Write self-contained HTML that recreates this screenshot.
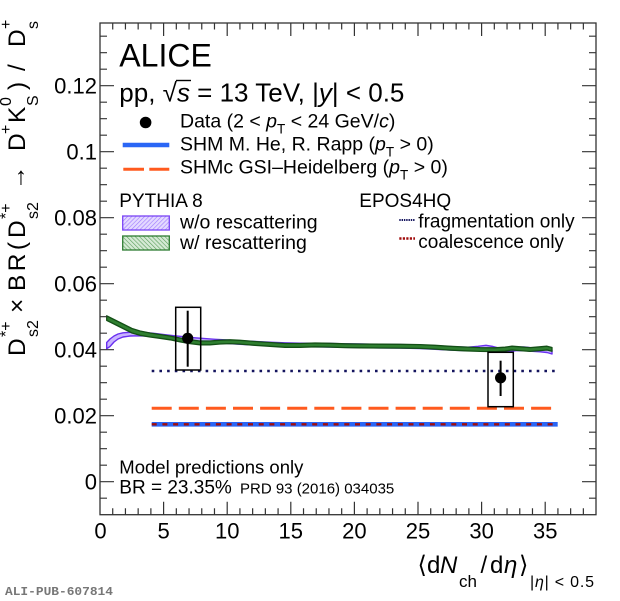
<!DOCTYPE html>
<html>
<head>
<meta charset="utf-8">
<style>
  html,body{margin:0;padding:0;background:#fff;}
  svg{display:block;}
  text{font-family:"Liberation Sans",Arial,sans-serif;fill:#000;}
  .it{font-style:italic;}
</style>
</head>
<body>
<svg width="620" height="601" viewBox="0 0 620 601" xmlns="http://www.w3.org/2000/svg">
  <defs>
    <pattern id="hp" patternUnits="userSpaceOnUse" width="3" height="3" patternTransform="rotate(45)">
      <rect width="3" height="3" fill="#e4d9ff"/>
      <line x1="0" y1="0" x2="0" y2="3" stroke="#9d78ff" stroke-width="1.2"/>
    </pattern>
    <pattern id="hg" patternUnits="userSpaceOnUse" width="3" height="3" patternTransform="rotate(-45)">
      <rect width="3" height="3" fill="#d5ead5"/>
      <line x1="0" y1="0" x2="0" y2="3" stroke="#5a9e5a" stroke-width="1.2"/>
    </pattern>
  </defs>
  <rect width="620" height="601" fill="#fff"/>

  <!-- Model horizontal lines -->
  <line x1="151.7" y1="371" x2="557.7" y2="371" stroke="#14145e" stroke-width="2.6" stroke-dasharray="2.6 5.1"/>
  <line x1="151.7" y1="408.3" x2="552.7" y2="408.3" stroke="#ff5a1e" stroke-width="3" stroke-dasharray="20 7.1"/>
  <line x1="151.7" y1="424.3" x2="557.7" y2="424.3" stroke="#2a66f5" stroke-width="4.6"/>
  <line x1="151.7" y1="424.3" x2="557.7" y2="424.3" stroke="#a00d0d" stroke-width="2.4" stroke-dasharray="5 5.7"/>

  <!-- PYTHIA w/o rescattering (purple) -->
  <polygon fill="#c9b4ff" stroke="#6a30f0" stroke-width="1.4" stroke-linejoin="round" points="
    106.7,342.5 110,339 114,336 118,334 123,332.8 130,332.3 138,332.3 146,332.6 155,333.5 165,334.7 175,335.8 185,336.8 195,337.8 205,338.6 215,339.3 225,339.8 240,340.8 255,341.5 270,342.2 285,342.8 300,343.2 315,343.3 330,343.5 345,343.8 360,344 380,344.4 400,344.6 420,345 440,346 455,346.8 468,347.2 478,346.3 486,345.3 493,346.5 500,348.3 508,348.3 516,347.2 524,347 532,347.8 540,348.3 547,349 552,350.5
    552,354 547,352.5 540,351.8 532,351.3 524,350.5 516,350.7 508,351.8 500,351.8 493,350 486,348.8 478,349.8 468,350.7 455,350.3 440,349.5 420,348.5 400,348.1 380,347.9 360,347.5 345,347.3 330,347 315,346.8 300,346.7 285,346.3 270,345.7 255,345 240,344.3 225,343.3 215,342.8 205,342.1 195,341.3 185,340.3 175,339.3 165,338.2 155,337 146,336.1 138,335.8 130,336 123,337 118,339 114,342 110,346.5 106.7,348.7"/>

  <!-- PYTHIA w/ rescattering (green) -->
  <polygon fill="#2f7f30" stroke="#134f16" stroke-width="1.3" stroke-linejoin="round" points="
    106.7,315.8 112,318.5 118,321.5 125,325 132,328.5 140,331 150,333 160,334.5 170,336 180,338 190,339.8 200,341 210,341 220,340.2 230,339.8 240,340.3 255,341.5 270,342.5 285,343.5 300,343.5 315,343 330,343.3 345,343.8 360,344 380,344.2 400,344.3 420,344.6 435,345.3 450,346.3 465,347 480,347.6 495,347.8 505,347.2 512,346.2 520,346.8 530,347.6 540,346.8 547,346.2 552,347.5
    552,351.3 547,350 540,350.6 530,351.4 520,350.6 512,350 505,351 495,351.6 480,351.4 465,350.8 450,350.1 435,349.1 420,348.4 400,348.1 380,348 360,347.8 345,347.6 330,347.1 315,346.8 300,347.3 285,347.3 270,346.3 255,345.3 240,344.1 230,343.6 220,344 210,344.8 200,344.8 190,343.6 180,341.8 170,339.8 160,338.3 150,337 140,335.3 132,333 125,329.5 118,326 112,323 106.7,320.4"/>

  <!-- Data points -->
  <rect x="175.7" y="307.3" width="25" height="62.7" fill="none" stroke="#000" stroke-width="1.5"/>
  <line x1="187.7" y1="310.7" x2="187.7" y2="366.7" stroke="#000" stroke-width="2"/>
  <circle cx="187.7" cy="338.3" r="5.6" fill="#000"/>
  <rect x="488" y="352.3" width="25.3" height="54.4" fill="none" stroke="#000" stroke-width="1.5"/>
  <line x1="500.6" y1="360.7" x2="500.6" y2="396" stroke="#000" stroke-width="2"/>
  <circle cx="500.6" cy="377.8" r="5.6" fill="#000"/>

  <!-- Frame -->
  <rect x="100" y="23" width="496" height="491.7" fill="none" stroke="#333" stroke-width="1.3"/>

  <!-- Ticks -->
  <g stroke="#333" stroke-width="1.2" fill="none">
    <path d="M163.6 514.7v-13M227.2 514.7v-13M290.8 514.7v-13M354.4 514.7v-13M418 514.7v-13M481.6 514.7v-13M545.2 514.7v-13"/>
    <path d="M163.6 23v13M227.2 23v13M290.8 23v13M354.4 23v13M418 23v13M481.6 23v13M545.2 23v13"/>
    <path d="M112.72 514.7v-6.5M125.44 514.7v-6.5M138.16 514.7v-6.5M150.88 514.7v-6.5M176.32 514.7v-6.5M189.04 514.7v-6.5M201.76 514.7v-6.5M214.48 514.7v-6.5M239.92 514.7v-6.5M252.64 514.7v-6.5M265.36 514.7v-6.5M278.08 514.7v-6.5M303.52 514.7v-6.5M316.24 514.7v-6.5M328.96 514.7v-6.5M341.68 514.7v-6.5M367.12 514.7v-6.5M379.84 514.7v-6.5M392.56 514.7v-6.5M405.28 514.7v-6.5M430.72 514.7v-6.5M443.44 514.7v-6.5M456.16 514.7v-6.5M468.88 514.7v-6.5M494.32 514.7v-6.5M507.04 514.7v-6.5M519.76 514.7v-6.5M532.48 514.7v-6.5M557.92 514.7v-6.5M570.64 514.7v-6.5M583.36 514.7v-6.5"/>
    <path d="M112.72 23v6.5M125.44 23v6.5M138.16 23v6.5M150.88 23v6.5M176.32 23v6.5M189.04 23v6.5M201.76 23v6.5M214.48 23v6.5M239.92 23v6.5M252.64 23v6.5M265.36 23v6.5M278.08 23v6.5M303.52 23v6.5M316.24 23v6.5M328.96 23v6.5M341.68 23v6.5M367.12 23v6.5M379.84 23v6.5M392.56 23v6.5M405.28 23v6.5M430.72 23v6.5M443.44 23v6.5M456.16 23v6.5M468.88 23v6.5M494.32 23v6.5M507.04 23v6.5M519.76 23v6.5M532.48 23v6.5M557.92 23v6.5M570.64 23v6.5M583.36 23v6.5"/>
    <path d="M100 481.7h14M100 415.7h14M100 349.7h14M100 283.7h14M100 217.7h14M100 151.7h14M100 85.7h14"/>
    <path d="M596 481.7h-14M596 415.7h-14M596 349.7h-14M596 283.7h-14M596 217.7h-14M596 151.7h-14M596 85.7h-14"/>
    <path d="M100 498.2h7M100 465.2h7M100 448.7h7M100 432.2h7M100 399.2h7M100 382.7h7M100 366.2h7M100 333.2h7M100 316.7h7M100 300.2h7M100 267.2h7M100 250.7h7M100 234.2h7M100 201.2h7M100 184.7h7M100 168.2h7M100 135.2h7M100 118.7h7M100 102.2h7M100 69.2h7M100 52.7h7M100 36.2h7"/>
    <path d="M596 498.2h-7M596 465.2h-7M596 448.7h-7M596 432.2h-7M596 399.2h-7M596 382.7h-7M596 366.2h-7M596 333.2h-7M596 316.7h-7M596 300.2h-7M596 267.2h-7M596 250.7h-7M596 234.2h-7M596 201.2h-7M596 184.7h-7M596 168.2h-7M596 135.2h-7M596 118.7h-7M596 102.2h-7M596 69.2h-7M596 52.7h-7M596 36.2h-7"/>
  </g>

  <!-- Y tick labels -->
  <g font-size="22" text-anchor="end">
    <text x="97" y="489.5">0</text>
    <text x="97" y="423.5">0.02</text>
    <text x="97" y="357.5">0.04</text>
    <text x="97" y="291.5">0.06</text>
    <text x="97" y="225.5">0.08</text>
    <text x="97" y="159.5">0.1</text>
    <text x="97" y="93.5">0.12</text>
  </g>

  <!-- X tick labels -->
  <g font-size="22" text-anchor="middle">
    <text x="100.5" y="538.5">0</text>
    <text x="163.6" y="538.5">5</text>
    <text x="227.2" y="538.5">10</text>
    <text x="290.8" y="538.5">15</text>
    <text x="354.4" y="538.5">20</text>
    <text x="418" y="538.5">25</text>
    <text x="481.6" y="538.5">30</text>
    <text x="545.2" y="538.5">35</text>
  </g>

  <!-- X axis title -->
  <text x="417.5" y="573" font-size="24" style="font-family:'DejaVu Sans','Noto Sans CJK SC',sans-serif">⟨</text>
  <text x="427" y="573" font-size="24">d</text>
  <text x="440" y="573" font-size="24" class="it">N</text>
  <text x="459" y="587" font-size="17">ch</text>
  <text x="480.5" y="573" font-size="24">/</text>
  <text x="490" y="573" font-size="24">d</text>
  <text x="504" y="573" font-size="24" class="it">η</text>
  <text x="519" y="573" font-size="24" style="font-family:'DejaVu Sans','Noto Sans CJK SC',sans-serif">⟩</text>
  <text x="530" y="587" font-size="16" textLength="64" lengthAdjust="spacing">|<tspan class="it">η</tspan>| &lt; 0.5</text>

  <!-- Y axis title (rotated) -->
  <g transform="translate(25,0) rotate(-90)">
    <text x="-356" y="0" font-size="24.5">D</text>
    <text x="-337" y="-14" font-size="16">*+</text>
    <text x="-337" y="13" font-size="16">s2</text>
    <text x="-313" y="0" font-size="24.5">×</text>
    <text x="-291" y="0" font-size="24.5" textLength="49" lengthAdjust="spacing">BR(</text>
    <text x="-238" y="0" font-size="24.5">D</text>
    <text x="-219" y="-14" font-size="16">*+</text>
    <text x="-219" y="13" font-size="16">s2</text>
    <text x="-190" y="0" font-size="24.5">→</text>
    <text x="-151" y="0" font-size="24.5">D</text>
    <text x="-134" y="-14" font-size="16">+</text>
    <text x="-123" y="0" font-size="24.5">K</text>
    <text x="-106" y="-14" font-size="16">0</text>
    <text x="-106" y="13" font-size="16">S</text>
    <text x="-90" y="0" font-size="24.5">)</text>
    <text x="-71" y="0" font-size="24.5">/</text>
    <text x="-47" y="0" font-size="24.5">D</text>
    <text x="-29" y="-14" font-size="16">+</text>
    <text x="-29" y="13" font-size="16">s</text>
  </g>

  <!-- ALICE and system -->
  <text x="119.3" y="66.7" font-size="32">ALICE</text>
  <text x="119.3" y="101.5" font-size="26">pp, √<tspan class="it">s</tspan> = 13 TeV, |<tspan class="it">y</tspan>| &lt; 0.5</text>
  <line x1="176" y1="80.5" x2="191" y2="80.5" stroke="#000" stroke-width="1.4"/>

  <!-- Legend top -->
  <circle cx="145.6" cy="122.5" r="5.8" fill="#000"/>
  <text x="180" y="127.5" font-size="19.5">Data (2 &lt; <tspan class="it">p</tspan><tspan font-size="13.5" dy="6">T</tspan><tspan dy="-6"> &lt; 24 GeV/</tspan><tspan class="it">c</tspan>)</text>
  <line x1="122.7" y1="145" x2="169.3" y2="145" stroke="#2a66f5" stroke-width="4.6"/>
  <text x="180" y="150.5" font-size="19.5">SHM M. He, R. Rapp (<tspan class="it">p</tspan><tspan font-size="13.5" dy="6">T</tspan><tspan dy="-6"> &gt; 0)</tspan></text>
  <line x1="123.3" y1="169.3" x2="169.3" y2="169.3" stroke="#ff5a1e" stroke-width="3" stroke-dasharray="20.7 5.3"/>
  <text x="180" y="173.5" font-size="19.5">SHMc GSI–Heidelberg (<tspan class="it">p</tspan><tspan font-size="13.5" dy="6">T</tspan><tspan dy="-6"> &gt; 0)</tspan></text>

  <!-- PYTHIA legend -->
  <text x="119.3" y="207" font-size="19">PYTHIA 8</text>
  <rect x="122.7" y="216" width="46.6" height="14" fill="url(#hp)" stroke="#7a44f5" stroke-width="1.3"/>
  <text x="180" y="228.5" font-size="19.5">w/o rescattering</text>
  <rect x="122.7" y="236" width="46.6" height="14" fill="url(#hg)" stroke="#2e7d32" stroke-width="1.3"/>
  <text x="180" y="249" font-size="19.5">w/ rescattering</text>

  <!-- EPOS legend -->
  <text x="359.3" y="207" font-size="19">EPOS4HQ</text>
  <line x1="399.3" y1="220" x2="415" y2="220" stroke="#14145e" stroke-width="2" stroke-dasharray="1.4 0.9"/>
  <text x="418.3" y="227.5" font-size="19">fragmentation only</text>
  <line x1="399.3" y1="238.5" x2="415" y2="238.5" stroke="#a00d0d" stroke-width="2.4" stroke-dasharray="2.2 1.3"/>
  <text x="418.3" y="248" font-size="19">coalescence only</text>

  <!-- Bottom notes -->
  <text x="119.3" y="473.3" font-size="18.5">Model predictions only</text>
  <text x="119.3" y="493.3" font-size="19">BR = 23.35%</text>
  <text x="240" y="493.3" font-size="15">PRD 93 (2016) 034035</text>

  <!-- Pub id -->
  <text x="5" y="595" font-size="12" font-weight="bold" style="font-family:'Liberation Mono',monospace;fill:#777" textLength="108" lengthAdjust="spacingAndGlyphs">ALI-PUB-607814</text>
</svg>
</body>
</html>
